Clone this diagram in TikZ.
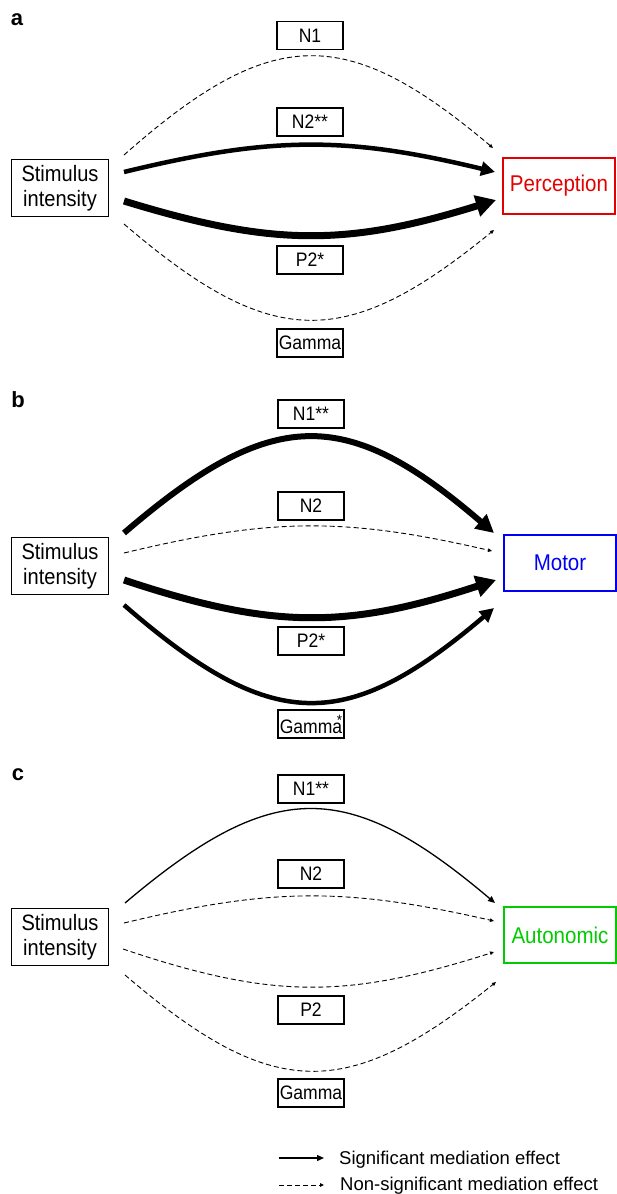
\documentclass[tikz,border=0pt]{standalone}
\usepackage{fontspec}
\setmainfont{Liberation Sans}
\newfontfamily\narrowsans[FakeStretch=0.9]{Liberation Sans}
\usetikzlibrary{arrows.meta}
\definecolor{percred}{RGB}{228,0,0}
\definecolor{motblue}{RGB}{0,0,245}
\definecolor{autgreen}{RGB}{0,204,0}
\begin{document}
\begin{tikzpicture}[x=1pt,y=1pt,
 bigbox/.style={draw, line width=1.7pt, minimum width=112pt, minimum height=56pt, inner sep=0pt, font=\narrowsans\fontsize{22.8}{25}\selectfont},
 stimbox/.style={draw, line width=1.7pt, minimum width=97pt, minimum height=57pt, inner sep=0pt, align=center, font=\narrowsans\fontsize{22.3}{24.5}\selectfont},
 medbox/.style={draw, line width=1.7pt, minimum width=66pt, minimum height=28pt, inner sep=1.5pt, font=\narrowsans\fontsize{19.5}{21}\selectfont},
 panel/.style={inner sep=0pt, font=\fontsize{22}{24}\selectfont\bfseries},
 legtext/.style={inner sep=0pt, anchor=base west, font=\fontsize{18.5}{20}\selectfont},
 ns/.style={line width=0.9pt, dash pattern=on 5pt off 3pt, -{Triangle[length=4pt,width=3.5pt]}},
 sigthin/.style={line width=1.3pt, -{Triangle[length=7pt,width=6pt]}},
 sigmid/.style={line width=4.5pt, -{Triangle[length=14pt,width=14pt]}},
 sigthick/.style={line width=7pt, -{Triangle[length=20pt,width=21pt]}},
 ]
\useasboundingbox (0,0) rectangle (617,-1194);

% ---------------- panel a ----------------
\node[panel] (la) at (17,-20) {a};
\node[medbox] (a1) at (310,-35.5) {N1};
\node[medbox] (a2) at (310,-122) {N2**};
\node[medbox] (a3) at (310,-260) {P2*};
\node[medbox] (a4) at (310,-343) {Gamma};
\node[stimbox] (as) at (60,-188) {Stimulus\\intensity};
\node[bigbox, draw=percred, text=percred] (at) at (559,-186) {Perception};
\coordinate (aS1) at (124,-155); \coordinate (aE1) at (493,-148);
\coordinate (aS2) at (124,-172); \coordinate (aE2) at (495,-172);
\coordinate (aS3) at (124,-201); \coordinate (aE3) at (496,-200);
\coordinate (aS4) at (124,-224); \coordinate (aE4) at (494,-230);
\draw[ns] (aS1) .. controls (272,-24.2) and (346,-24.2) .. (aE1);
\draw[sigmid] (aS2) .. controls (272,-136) and (346,-136) .. (aE2);
\draw[sigthick] (aS3) .. controls (272,-246.5) and (346,-246.5) .. (aE3);
\draw[ns] (aS4) .. controls (272,-351) and (346,-351) .. (aE4);

% ---------------- panel b ----------------
\node[panel] (lb) at (18,-400) {b};
\node[medbox] (b1) at (311,-414) {N1**};
\node[medbox] (b2) at (311,-506) {N2};
\node[medbox] (b3) at (311,-641) {P2*};
\node[medbox] (b4) at (311,-724) {Gamma\llap{\raisebox{8pt}{\fontsize{15}{15}\selectfont *}}};
\node[stimbox] (bs) at (60,-566) {Stimulus\\intensity};
\node[bigbox, draw=motblue, text=motblue] (bt) at (560,-563) {Motor};
\coordinate (bS1) at (124,-533); \coordinate (bE1) at (494,-533);
\coordinate (bS2) at (124,-553); \coordinate (bE2) at (492,-551);
\coordinate (bS3) at (124,-580); \coordinate (bE3) at (496,-580);
\coordinate (bS4) at (124,-605); \coordinate (bE4) at (494,-608);
\draw[line width=6pt, -{Triangle[length=18pt,width=18pt]}] (bS1) .. controls (272,-405.7) and (346,-405.7) .. (bE1);
\draw[ns] (bS2) .. controls (272,-517.3) and (346,-517.3) .. (bE2);
\draw[sigthick] (bS3) .. controls (272,-629.3) and (346,-629.3) .. (bE3);
\draw[sigmid] (bS4) .. controls (272,-733.8) and (346,-733.8) .. (bE4);

% ---------------- panel c ----------------
\node[panel] (lc) at (18,-775) {c};
\node[medbox] (c1) at (311,-789) {N1**};
\node[medbox] (c2) at (311,-874) {N2};
\node[medbox] (c3) at (311,-1010) {P2};
\node[medbox] (c4) at (311,-1093) {Gamma};
\node[stimbox] (cs) at (60,-937) {Stimulus\\intensity};
\node[bigbox, draw=autgreen, text=autgreen] (ct) at (560,-935) {Autonomic};
\coordinate (cS1) at (125,-903); \coordinate (cE1) at (495,-903);
\coordinate (cS2) at (124,-923); \coordinate (cE2) at (494,-921);
\coordinate (cS3) at (123,-949); \coordinate (cE3) at (494,-952);
\coordinate (cS4) at (125,-975); \coordinate (cE4) at (496,-982);
\draw[sigthin] (cS1) .. controls (273,-777.7) and (347,-777.7) .. (cE1);
\draw[ns] (cS2) .. controls (272,-887.3) and (346,-887.3) .. (cE2);
\draw[ns] (cS3) .. controls (272,-999.2) and (346,-999.2) .. (cE3);
\draw[ns] (cS4) .. controls (273,-1101.8) and (347,-1101.8) .. (cE4);

% ---------------- legend ----------------
\coordinate (l1s) at (279,-1158); \coordinate (l1e) at (324,-1158);
\coordinate (l2s) at (279,-1185); \coordinate (l2e) at (324,-1185);
\draw[sigthin] (l1s) -- (l1e);
\draw[ns] (l2s) -- (l2e);
\node[legtext] (lt1) at (339,-1164) {Significant mediation effect};
\node[legtext] (lt2) at (340,-1190.5) {Non-significant mediation effect};
\end{tikzpicture}
\end{document}
